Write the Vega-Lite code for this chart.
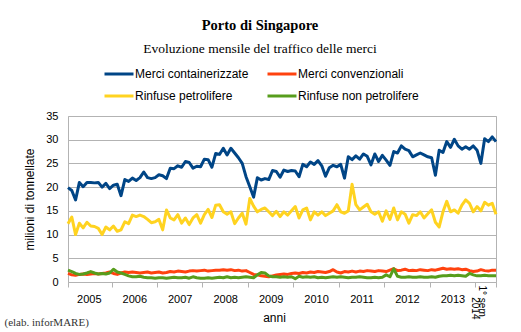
{
  "$schema": "https://vega.github.io/schema/vega-lite/v6.json",
  "width": 428,
  "height": 166,
  "autosize": "none",
  "padding": {"left": 68, "top": 116, "right": 25, "bottom": 50},
  "background": "white",
  "config": {"view": {"stroke": "#b3b3b3", "strokeWidth": 1}},
  "title": {
    "text": "Porto di Singapore",
    "subtitle": "Evoluzione mensile del traffico delle merci",
    "anchor": "middle",
    "frame": "group",
    "dx": -22,
    "offset": 2,
    "font": "Liberation Serif",
    "fontSize": 14.5,
    "fontWeight": "bold",
    "color": "black",
    "subtitleFont": "Liberation Serif",
    "subtitleFontSize": 13.5,
    "subtitleColor": "black",
    "subtitlePadding": 8
  },
  "data": {"values": [
    {"m":0,"Merci containerizzate":19.9,"Merci convenzionali":1.8,"Rinfuse petrolifere":12.3,"Rinfuse non petrolifere":2.5},
    {"m":1,"Merci containerizzate":19.3,"Merci convenzionali":1.5,"Rinfuse petrolifere":13.7,"Rinfuse non petrolifere":2.2},
    {"m":2,"Merci containerizzate":17.3,"Merci convenzionali":1.4,"Rinfuse petrolifere":10.0,"Rinfuse non petrolifere":1.8},
    {"m":3,"Merci containerizzate":21.0,"Merci convenzionali":1.6,"Rinfuse petrolifere":12.4,"Rinfuse non petrolifere":1.6},
    {"m":4,"Merci containerizzate":20.1,"Merci convenzionali":1.7,"Rinfuse petrolifere":11.4,"Rinfuse non petrolifere":1.7},
    {"m":5,"Merci containerizzate":21.0,"Merci convenzionali":1.6,"Rinfuse petrolifere":12.6,"Rinfuse non petrolifere":1.9},
    {"m":6,"Merci containerizzate":21.0,"Merci convenzionali":1.7,"Rinfuse petrolifere":11.8,"Rinfuse non petrolifere":2.2},
    {"m":7,"Merci containerizzate":20.9,"Merci convenzionali":1.8,"Rinfuse petrolifere":11.7,"Rinfuse non petrolifere":1.9},
    {"m":8,"Merci containerizzate":21.0,"Merci convenzionali":1.7,"Rinfuse petrolifere":11.3,"Rinfuse non petrolifere":1.7},
    {"m":9,"Merci containerizzate":20.0,"Merci convenzionali":1.8,"Rinfuse petrolifere":10.0,"Rinfuse non petrolifere":1.8},
    {"m":10,"Merci containerizzate":20.8,"Merci convenzionali":1.9,"Rinfuse petrolifere":11.6,"Rinfuse non petrolifere":1.7},
    {"m":11,"Merci containerizzate":19.7,"Merci convenzionali":2.1,"Rinfuse petrolifere":11.0,"Rinfuse non petrolifere":1.9},
    {"m":12,"Merci containerizzate":20.4,"Merci convenzionali":1.8,"Rinfuse petrolifere":11.8,"Rinfuse non petrolifere":2.7},
    {"m":13,"Merci containerizzate":20.6,"Merci convenzionali":1.6,"Rinfuse petrolifere":10.7,"Rinfuse non petrolifere":2.1},
    {"m":14,"Merci containerizzate":18.2,"Merci convenzionali":1.9,"Rinfuse petrolifere":11.0,"Rinfuse non petrolifere":1.9},
    {"m":15,"Merci containerizzate":21.6,"Merci convenzionali":2.1,"Rinfuse petrolifere":12.7,"Rinfuse non petrolifere":1.6},
    {"m":16,"Merci containerizzate":21.2,"Merci convenzionali":2.0,"Rinfuse petrolifere":12.3,"Rinfuse non petrolifere":1.3},
    {"m":17,"Merci containerizzate":21.9,"Merci convenzionali":2.1,"Rinfuse petrolifere":14.1,"Rinfuse non petrolifere":1.1},
    {"m":18,"Merci containerizzate":21.4,"Merci convenzionali":2.0,"Rinfuse petrolifere":13.8,"Rinfuse non petrolifere":1.1},
    {"m":19,"Merci containerizzate":22.0,"Merci convenzionali":1.9,"Rinfuse petrolifere":14.1,"Rinfuse non petrolifere":1.2},
    {"m":20,"Merci containerizzate":23.2,"Merci convenzionali":2.0,"Rinfuse petrolifere":13.8,"Rinfuse non petrolifere":1.0},
    {"m":21,"Merci containerizzate":22.0,"Merci convenzionali":2.1,"Rinfuse petrolifere":13.2,"Rinfuse non petrolifere":0.9},
    {"m":22,"Merci containerizzate":21.8,"Merci convenzionali":1.9,"Rinfuse petrolifere":12.5,"Rinfuse non petrolifere":0.9},
    {"m":23,"Merci containerizzate":22.0,"Merci convenzionali":2.0,"Rinfuse petrolifere":12.7,"Rinfuse non petrolifere":0.8},
    {"m":24,"Merci containerizzate":22.6,"Merci convenzionali":2.1,"Rinfuse petrolifere":13.2,"Rinfuse non petrolifere":0.9},
    {"m":25,"Merci containerizzate":22.4,"Merci convenzionali":1.9,"Rinfuse petrolifere":11.0,"Rinfuse non petrolifere":0.9},
    {"m":26,"Merci containerizzate":21.8,"Merci convenzionali":2.0,"Rinfuse petrolifere":15.2,"Rinfuse non petrolifere":0.8},
    {"m":27,"Merci containerizzate":24.0,"Merci convenzionali":2.2,"Rinfuse petrolifere":13.5,"Rinfuse non petrolifere":0.9},
    {"m":28,"Merci containerizzate":23.9,"Merci convenzionali":2.1,"Rinfuse petrolifere":13.1,"Rinfuse non petrolifere":1.0},
    {"m":29,"Merci containerizzate":24.5,"Merci convenzionali":2.3,"Rinfuse petrolifere":14.2,"Rinfuse non petrolifere":0.9},
    {"m":30,"Merci containerizzate":24.2,"Merci convenzionali":2.2,"Rinfuse petrolifere":12.4,"Rinfuse non petrolifere":0.9},
    {"m":31,"Merci containerizzate":25.4,"Merci convenzionali":2.1,"Rinfuse petrolifere":13.5,"Rinfuse non petrolifere":1.0},
    {"m":32,"Merci containerizzate":25.2,"Merci convenzionali":2.3,"Rinfuse petrolifere":12.1,"Rinfuse non petrolifere":0.8},
    {"m":33,"Merci containerizzate":24.0,"Merci convenzionali":2.4,"Rinfuse petrolifere":13.5,"Rinfuse non petrolifere":1.1},
    {"m":34,"Merci containerizzate":24.4,"Merci convenzionali":2.3,"Rinfuse petrolifere":14.2,"Rinfuse non petrolifere":0.9},
    {"m":35,"Merci containerizzate":24.3,"Merci convenzionali":2.4,"Rinfuse petrolifere":12.4,"Rinfuse non petrolifere":0.8},
    {"m":36,"Merci containerizzate":25.9,"Merci convenzionali":2.5,"Rinfuse petrolifere":14.2,"Rinfuse non petrolifere":0.8},
    {"m":37,"Merci containerizzate":25.8,"Merci convenzionali":2.3,"Rinfuse petrolifere":15.3,"Rinfuse non petrolifere":0.9},
    {"m":38,"Merci containerizzate":24.2,"Merci convenzionali":2.4,"Rinfuse petrolifere":13.6,"Rinfuse non petrolifere":0.8},
    {"m":39,"Merci containerizzate":27.1,"Merci convenzionali":2.5,"Rinfuse petrolifere":16.2,"Rinfuse non petrolifere":0.9},
    {"m":40,"Merci containerizzate":26.9,"Merci convenzionali":2.5,"Rinfuse petrolifere":16.3,"Rinfuse non petrolifere":1.0},
    {"m":41,"Merci containerizzate":28.2,"Merci convenzionali":2.6,"Rinfuse petrolifere":14.8,"Rinfuse non petrolifere":0.9},
    {"m":42,"Merci containerizzate":26.8,"Merci convenzionali":2.5,"Rinfuse petrolifere":14.3,"Rinfuse non petrolifere":1.1},
    {"m":43,"Merci containerizzate":28.2,"Merci convenzionali":2.6,"Rinfuse petrolifere":14.8,"Rinfuse non petrolifere":0.9},
    {"m":44,"Merci containerizzate":27.2,"Merci convenzionali":2.4,"Rinfuse petrolifere":12.3,"Rinfuse non petrolifere":1.0},
    {"m":45,"Merci containerizzate":26.2,"Merci convenzionali":2.5,"Rinfuse petrolifere":13.5,"Rinfuse non petrolifere":0.9},
    {"m":46,"Merci containerizzate":25.0,"Merci convenzionali":2.3,"Rinfuse petrolifere":14.5,"Rinfuse non petrolifere":1.0},
    {"m":47,"Merci containerizzate":22.2,"Merci convenzionali":2.4,"Rinfuse petrolifere":12.2,"Rinfuse non petrolifere":1.1},
    {"m":48,"Merci containerizzate":20.1,"Merci convenzionali":2.0,"Rinfuse petrolifere":17.6,"Rinfuse non petrolifere":1.0},
    {"m":49,"Merci containerizzate":17.9,"Merci convenzionali":1.6,"Rinfuse petrolifere":16.0,"Rinfuse non petrolifere":0.9},
    {"m":50,"Merci containerizzate":22.0,"Merci convenzionali":1.5,"Rinfuse petrolifere":14.8,"Rinfuse non petrolifere":1.5},
    {"m":51,"Merci containerizzate":21.5,"Merci convenzionali":1.3,"Rinfuse petrolifere":15.3,"Rinfuse non petrolifere":2.0},
    {"m":52,"Merci containerizzate":21.8,"Merci convenzionali":1.2,"Rinfuse petrolifere":15.6,"Rinfuse non petrolifere":1.9},
    {"m":53,"Merci containerizzate":21.6,"Merci convenzionali":1.1,"Rinfuse petrolifere":14.8,"Rinfuse non petrolifere":1.3},
    {"m":54,"Merci containerizzate":23.5,"Merci convenzionali":1.3,"Rinfuse petrolifere":14.0,"Rinfuse non petrolifere":1.1},
    {"m":55,"Merci containerizzate":23.3,"Merci convenzionali":1.5,"Rinfuse petrolifere":14.9,"Rinfuse non petrolifere":1.1},
    {"m":56,"Merci containerizzate":22.1,"Merci convenzionali":1.6,"Rinfuse petrolifere":13.8,"Rinfuse non petrolifere":1.0},
    {"m":57,"Merci containerizzate":23.6,"Merci convenzionali":1.7,"Rinfuse petrolifere":14.8,"Rinfuse non petrolifere":1.1},
    {"m":58,"Merci containerizzate":23.3,"Merci convenzionali":1.6,"Rinfuse petrolifere":14.1,"Rinfuse non petrolifere":1.0},
    {"m":59,"Merci containerizzate":23.5,"Merci convenzionali":1.8,"Rinfuse petrolifere":15.0,"Rinfuse non petrolifere":1.1},
    {"m":60,"Merci containerizzate":23.4,"Merci convenzionali":1.9,"Rinfuse petrolifere":15.9,"Rinfuse non petrolifere":0.7},
    {"m":61,"Merci containerizzate":22.2,"Merci convenzionali":1.8,"Rinfuse petrolifere":13.5,"Rinfuse non petrolifere":1.2},
    {"m":62,"Merci containerizzate":24.8,"Merci convenzionali":2.0,"Rinfuse petrolifere":15.2,"Rinfuse non petrolifere":1.0},
    {"m":63,"Merci containerizzate":24.3,"Merci convenzionali":1.9,"Rinfuse petrolifere":15.6,"Rinfuse non petrolifere":1.1},
    {"m":64,"Merci containerizzate":25.3,"Merci convenzionali":2.1,"Rinfuse petrolifere":13.1,"Rinfuse non petrolifere":1.0},
    {"m":65,"Merci containerizzate":24.8,"Merci convenzionali":2.0,"Rinfuse petrolifere":14.8,"Rinfuse non petrolifere":1.1},
    {"m":66,"Merci containerizzate":25.6,"Merci convenzionali":2.2,"Rinfuse petrolifere":14.1,"Rinfuse non petrolifere":0.9},
    {"m":67,"Merci containerizzate":24.5,"Merci convenzionali":2.1,"Rinfuse petrolifere":14.8,"Rinfuse non petrolifere":1.0},
    {"m":68,"Merci containerizzate":22.3,"Merci convenzionali":2.0,"Rinfuse petrolifere":14.0,"Rinfuse non petrolifere":0.9},
    {"m":69,"Merci containerizzate":24.1,"Merci convenzionali":2.2,"Rinfuse petrolifere":14.5,"Rinfuse non petrolifere":1.0},
    {"m":70,"Merci containerizzate":24.6,"Merci convenzionali":2.6,"Rinfuse petrolifere":15.0,"Rinfuse non petrolifere":1.1},
    {"m":71,"Merci containerizzate":24.3,"Merci convenzionali":2.1,"Rinfuse petrolifere":16.3,"Rinfuse non petrolifere":1.0},
    {"m":72,"Merci containerizzate":24.8,"Merci convenzionali":1.9,"Rinfuse petrolifere":14.8,"Rinfuse non petrolifere":1.1},
    {"m":73,"Merci containerizzate":21.9,"Merci convenzionali":2.2,"Rinfuse petrolifere":14.5,"Rinfuse non petrolifere":1.0},
    {"m":74,"Merci containerizzate":26.4,"Merci convenzionali":2.1,"Rinfuse petrolifere":15.0,"Rinfuse non petrolifere":0.9},
    {"m":75,"Merci containerizzate":25.8,"Merci convenzionali":2.3,"Rinfuse petrolifere":20.6,"Rinfuse non petrolifere":1.0},
    {"m":76,"Merci containerizzate":26.6,"Merci convenzionali":2.1,"Rinfuse petrolifere":16.3,"Rinfuse non petrolifere":1.0},
    {"m":77,"Merci containerizzate":25.9,"Merci convenzionali":2.3,"Rinfuse petrolifere":15.2,"Rinfuse non petrolifere":1.1},
    {"m":78,"Merci containerizzate":27.0,"Merci convenzionali":2.2,"Rinfuse petrolifere":15.8,"Rinfuse non petrolifere":1.0},
    {"m":79,"Merci containerizzate":26.5,"Merci convenzionali":2.4,"Rinfuse petrolifere":16.4,"Rinfuse non petrolifere":0.9},
    {"m":80,"Merci containerizzate":24.7,"Merci convenzionali":2.3,"Rinfuse petrolifere":14.8,"Rinfuse non petrolifere":0.9},
    {"m":81,"Merci containerizzate":27.0,"Merci convenzionali":2.2,"Rinfuse petrolifere":14.3,"Rinfuse non petrolifere":1.0},
    {"m":82,"Merci containerizzate":25.4,"Merci convenzionali":2.4,"Rinfuse petrolifere":14.8,"Rinfuse non petrolifere":0.9},
    {"m":83,"Merci containerizzate":26.7,"Merci convenzionali":2.3,"Rinfuse petrolifere":12.8,"Rinfuse non petrolifere":1.0},
    {"m":84,"Merci containerizzate":25.7,"Merci convenzionali":2.2,"Rinfuse petrolifere":15.0,"Rinfuse non petrolifere":1.5},
    {"m":85,"Merci containerizzate":24.6,"Merci convenzionali":2.5,"Rinfuse petrolifere":13.2,"Rinfuse non petrolifere":1.1},
    {"m":86,"Merci containerizzate":27.5,"Merci convenzionali":2.8,"Rinfuse petrolifere":15.6,"Rinfuse non petrolifere":2.8},
    {"m":87,"Merci containerizzate":27.2,"Merci convenzionali":2.4,"Rinfuse petrolifere":13.1,"Rinfuse non petrolifere":1.2},
    {"m":88,"Merci containerizzate":28.7,"Merci convenzionali":2.5,"Rinfuse petrolifere":14.8,"Rinfuse non petrolifere":1.0},
    {"m":89,"Merci containerizzate":28.0,"Merci convenzionali":2.7,"Rinfuse petrolifere":14.3,"Rinfuse non petrolifere":1.0},
    {"m":90,"Merci containerizzate":27.7,"Merci convenzionali":2.4,"Rinfuse petrolifere":12.4,"Rinfuse non petrolifere":1.1},
    {"m":91,"Merci containerizzate":26.4,"Merci convenzionali":2.5,"Rinfuse petrolifere":14.2,"Rinfuse non petrolifere":1.0},
    {"m":92,"Merci containerizzate":26.8,"Merci convenzionali":2.4,"Rinfuse petrolifere":14.0,"Rinfuse non petrolifere":1.0},
    {"m":93,"Merci containerizzate":27.2,"Merci convenzionali":2.6,"Rinfuse petrolifere":14.8,"Rinfuse non petrolifere":1.1},
    {"m":94,"Merci containerizzate":26.8,"Merci convenzionali":2.5,"Rinfuse petrolifere":13.5,"Rinfuse non petrolifere":1.0},
    {"m":95,"Merci containerizzate":26.4,"Merci convenzionali":2.4,"Rinfuse petrolifere":14.4,"Rinfuse non petrolifere":1.0},
    {"m":96,"Merci containerizzate":26.2,"Merci convenzionali":2.6,"Rinfuse petrolifere":15.2,"Rinfuse non petrolifere":1.1},
    {"m":97,"Merci containerizzate":22.5,"Merci convenzionali":2.5,"Rinfuse petrolifere":12.6,"Rinfuse non petrolifere":1.0},
    {"m":98,"Merci containerizzate":27.8,"Merci convenzionali":2.7,"Rinfuse petrolifere":11.6,"Rinfuse non petrolifere":1.2},
    {"m":99,"Merci containerizzate":27.3,"Merci convenzionali":2.9,"Rinfuse petrolifere":14.8,"Rinfuse non petrolifere":1.3},
    {"m":100,"Merci containerizzate":29.6,"Merci convenzionali":2.7,"Rinfuse petrolifere":17.0,"Rinfuse non petrolifere":1.3},
    {"m":101,"Merci containerizzate":28.4,"Merci convenzionali":2.8,"Rinfuse petrolifere":14.8,"Rinfuse non petrolifere":1.4},
    {"m":102,"Merci containerizzate":30.1,"Merci convenzionali":2.7,"Rinfuse petrolifere":15.2,"Rinfuse non petrolifere":1.3},
    {"m":103,"Merci containerizzate":28.7,"Merci convenzionali":2.8,"Rinfuse petrolifere":14.5,"Rinfuse non petrolifere":1.4},
    {"m":104,"Merci containerizzate":28.0,"Merci convenzionali":2.6,"Rinfuse petrolifere":16.2,"Rinfuse non petrolifere":1.3},
    {"m":105,"Merci containerizzate":28.5,"Merci convenzionali":2.7,"Rinfuse petrolifere":17.3,"Rinfuse non petrolifere":1.2},
    {"m":106,"Merci containerizzate":28.0,"Merci convenzionali":2.4,"Rinfuse petrolifere":16.6,"Rinfuse non petrolifere":1.8},
    {"m":107,"Merci containerizzate":28.7,"Merci convenzionali":2.2,"Rinfuse petrolifere":14.8,"Rinfuse non petrolifere":1.5},
    {"m":108,"Merci containerizzate":27.8,"Merci convenzionali":2.3,"Rinfuse petrolifere":15.9,"Rinfuse non petrolifere":1.3},
    {"m":109,"Merci containerizzate":25.0,"Merci convenzionali":2.6,"Rinfuse petrolifere":15.0,"Rinfuse non petrolifere":1.3},
    {"m":110,"Merci containerizzate":30.2,"Merci convenzionali":2.4,"Rinfuse petrolifere":16.8,"Rinfuse non petrolifere":1.4},
    {"m":111,"Merci containerizzate":29.6,"Merci convenzionali":2.3,"Rinfuse petrolifere":16.2,"Rinfuse non petrolifere":1.3},
    {"m":112,"Merci containerizzate":30.6,"Merci convenzionali":2.5,"Rinfuse petrolifere":16.6,"Rinfuse non petrolifere":1.3},
    {"m":113,"Merci containerizzate":29.6,"Merci convenzionali":2.5,"Rinfuse petrolifere":14.3,"Rinfuse non petrolifere":1.3}
  ]},
  "transform": [
    {"fold": ["Merci containerizzate", "Merci convenzionali", "Rinfuse petrolifere", "Rinfuse non petrolifere"], "as": ["serie", "valore"]}
  ],
  "layer": [
    {
      "mark": {"type": "line", "strokeWidth": 3, "strokeJoin": "round"},
      "encoding": {
        "x": {
          "field": "m", "type": "quantitative",
          "scale": {"domain": [0, 113], "nice": false, "zero": false},
          "axis": {
            "orient": "bottom",
            "values": [0, 5.5, 11.5, 17.5, 23.5, 29.5, 35.5, 41.5, 47.5, 53.5, 59.5, 65.5, 71.5, 77.5, 83.5, 89.5, 95.5, 101.5, 107.5, 113],
            "labelExpr": "datum.value % 12 == 5.5 ? '' + (2005 + floor(datum.value / 12)) : ''",
            "tickOpacity": {"condition": {"test": "datum.value % 12 == 11.5 || datum.value == 0 || datum.value == 113", "value": 1}, "value": 0},
            "grid": false,
            "domain": false,
            "tickColor": "#b3b3b3",
            "tickSize": 5,
            "labelPadding": 6,
            "labelFont": "Liberation Sans",
            "labelFontSize": 11,
            "labelColor": "black",
            "labelFlush": false,
            "labelOverlap": false,
            "title": "anni",
            "titleFont": "Liberation Sans",
            "titleFontSize": 12,
            "titleFontWeight": "normal",
            "titleColor": "black",
            "titleX": 206,
            "titleY": 39,
            "titleAlign": "center",
            "titleBaseline": "alphabetic"
          }
        },
        "y": {
          "field": "valore", "type": "quantitative",
          "scale": {"domain": [0, 35], "nice": false},
          "axis": {
            "values": [0, 5, 10, 15, 20, 25, 30, 35],
            "grid": true,
            "gridColor": "#b3b3b3",
            "domain": false,
            "ticks": false,
            "labelPadding": 10,
            "labelFont": "Liberation Sans",
            "labelFontSize": 11,
            "labelColor": "black",
            "title": "milioni di tonnellate",
            "titleFont": "Liberation Sans",
            "titleFontSize": 12,
            "titleFontWeight": "normal",
            "titleColor": "black",
            "titlePadding": 9
          }
        },
        "color": {
          "field": "serie", "type": "nominal",
          "scale": {
            "domain": ["Merci containerizzate", "Merci convenzionali", "Rinfuse petrolifere", "Rinfuse non petrolifere"],
            "range": ["#004586", "#ff420e", "#ffd320", "#579d1c"]
          },
          "legend": {
            "orient": "none",
            "legendX": 35,
            "legendY": -58,
            "title": null,
            "columns": 2,
            "direction": "horizontal",
            "symbolType": "stroke",
            "symbolSize": 841,
            "symbolStrokeWidth": 3,
            "labelFont": "Liberation Sans",
            "labelFontSize": 12,
            "labelColor": "black",
            "labelOffset": 0,
            "columnPadding": 12,
            "rowPadding": -11,
            "padding": 0,
            "labelLimit": 300
          }
        }
      }
    },
    {
      "mark": {"type": "point", "opacity": 0},
      "encoding": {
        "x": {
          "field": "m", "type": "quantitative",
          "axis": {
            "orient": "bottom",
            "values": [109.2],
            "labelExpr": "['1° sem.', '2014']",
            "labelAngle": 90,
            "labelAlign": "right",
            "labelBaseline": "middle",
            "labelPadding": 37,
            "labelLineHeight": 7,
            "labelFont": "Liberation Sans",
            "labelFontSize": 10,
            "labelColor": "black",
            "labelFlush": false,
            "labelOverlap": false,
            "ticks": false,
            "domain": false,
            "grid": false,
            "title": "(elab. inforMARE)",
            "titleFont": "Liberation Serif",
            "titleFontSize": 11,
            "titleFontWeight": "normal",
            "titleColor": "#333333",
            "titleX": -64,
            "titleY": 43,
            "titleAlign": "left",
            "titleAnchor": "start",
            "titleBaseline": "alphabetic"
          }
        }
      }
    }
  ],
  "resolve": {"axis": {"x": "independent"}}
}
